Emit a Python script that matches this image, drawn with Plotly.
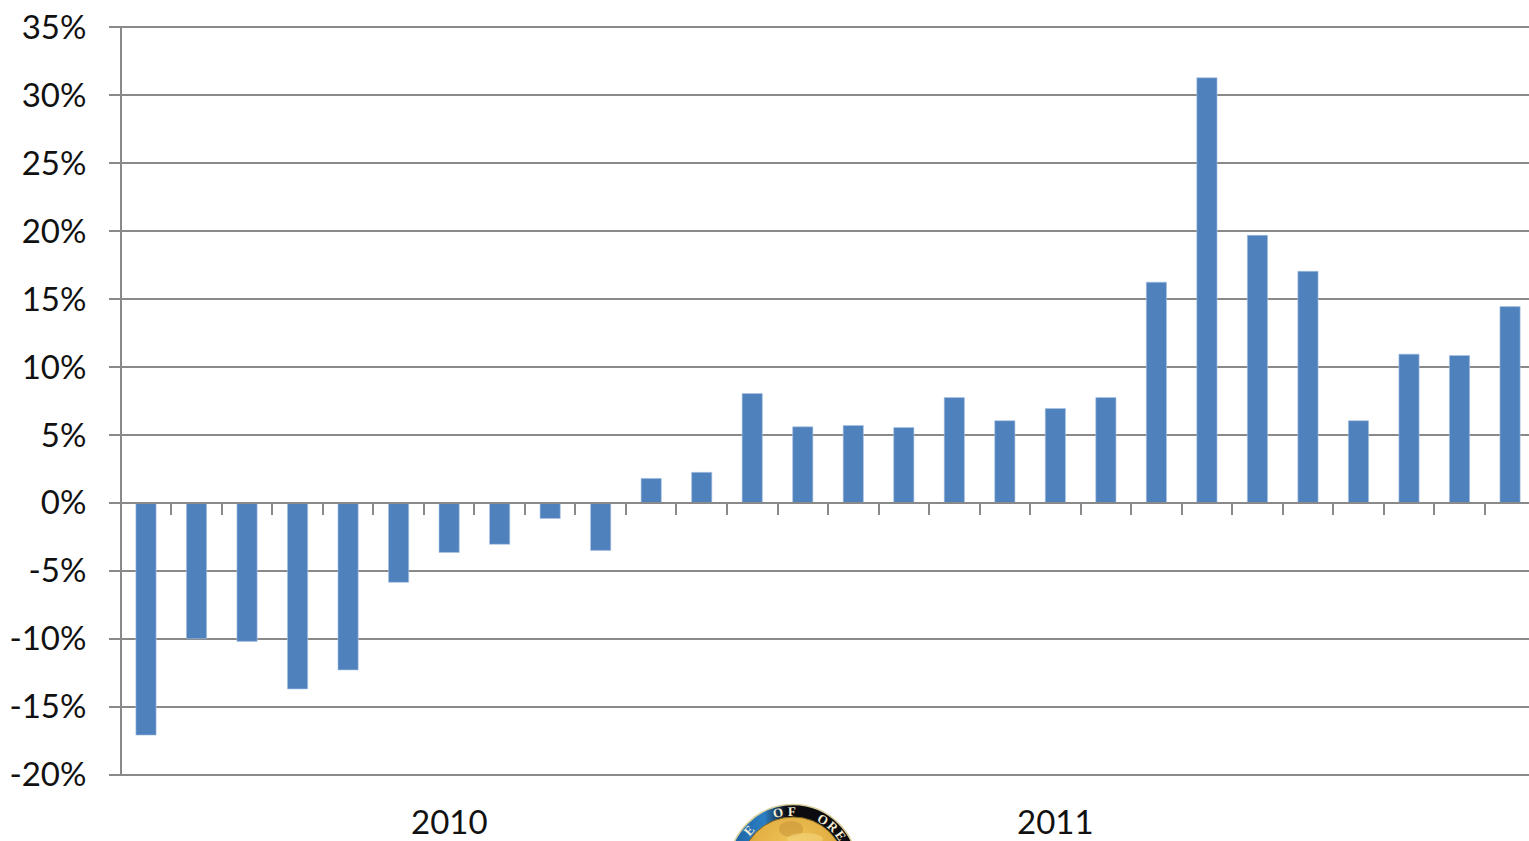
import base64
import math
import plotly.graph_objects as go

# Period-over-period change, in percent
change_pct = [-17.1, -10.0, -10.2, -13.7, -12.3, -5.85, -3.65, -3.05, -1.15, -3.5,
              1.8, 2.25, 8.05, 5.6, 5.7, 5.55, 7.75, 6.05, 6.95, 7.75,
              16.25, 31.3, 19.7, 17.05, 6.05, 10.95, 10.85, 14.45]
periods = list(range(len(change_pct)))
y_ticks = [-20, -15, -10, -5, 0, 5, 10, 15, 20, 25, 30, 35]
period_boundaries = [p + 0.5 for p in periods[:-1]]
year_labels = ["2010", "2011"]
year_centres = [6, 18]
seal_letters = ["E", "O", "F", "O", "R", "E"]
seal_angles = [-49, -15, -1, 31, 43, 55]

W, H = 1529, 841
GRID = "#898989"
FONT = "Lato, Carlito, 'Open Sans', sans-serif"

# State seal, cut off by the bottom of the page
SEAL_X, SEAL_Y, SEAL_R = 793, 869, 65
seal_svg = f"""<svg xmlns='http://www.w3.org/2000/svg' width='140' height='140' viewBox='0 0 140 140'>
<defs>
<radialGradient id='g' cx='50%' cy='30%' r='60%'>
<stop offset='0%' stop-color='#f0c65a'/><stop offset='60%' stop-color='#e3b044'/><stop offset='100%' stop-color='#cf9430'/>
</radialGradient>
<linearGradient id='b' x1='0' y1='0' x2='1' y2='0'>
<stop offset='0%' stop-color='#1a5f9e'/><stop offset='28%' stop-color='#2c7fc4'/><stop offset='45%' stop-color='#0c0c10'/><stop offset='100%' stop-color='#0c0c10'/>
</linearGradient>
</defs>
<circle cx='70' cy='70' r='64.5' fill='url(#b)' stroke='#d8cf9e' stroke-width='1.5'/>
<circle cx='70' cy='70' r='52' fill='url(#g)' stroke='#8a6a20' stroke-width='1'/>
<ellipse cx='68' cy='30' rx='12' ry='8' fill='#c9973a' opacity='0.6'/>
<ellipse cx='82' cy='40' rx='18' ry='6' fill='#f5d67c' opacity='0.6'/>
</svg>"""
seal_uri = "data:image/svg+xml;base64," + base64.b64encode(seal_svg.encode()).decode()

fig = go.Figure(
    go.Bar(
        x=periods,
        y=change_pct,
        width=0.4,
        marker=dict(color="#4f81bd", line=dict(color="#a9c3e3", width=0.6)),
    )
)

# Plot area bounds in page pixels
LEFT, TOP, BOTTOM = 122, 26, 776
x_step = 50.52
x_left = -(146 - LEFT) / x_step
x_right = x_left + (W - LEFT) / x_step
y_pad = 0.11  # keeps the gridlines at both range ends from being clipped
y_low, y_high = -20 - y_pad, 35 + y_pad

fig.update_layout(
    width=W,
    height=H,
    margin=dict(l=LEFT, r=0, t=TOP, b=H - BOTTOM, pad=0),
    paper_bgcolor="white",
    plot_bgcolor="white",
    showlegend=False,
    font=dict(family=FONT, size=33, color="#111111"),
    bargap=0.6,
    xaxis=dict(
        range=[x_left, x_right],
        anchor="free",
        position=-y_low / (y_high - y_low),
        tickmode="array",
        tickvals=period_boundaries,
        ticktext=["" for _ in period_boundaries],
        ticks="outside",
        ticklen=11,
        tickwidth=2,
        tickcolor=GRID,
        showgrid=False,
        zeroline=False,
        showline=True,
        linecolor=GRID,
        linewidth=2,
    ),
    yaxis=dict(
        range=[y_low, y_high],
        tickmode="array",
        tickvals=y_ticks,
        ticktext=[f"{v}%" for v in y_ticks],
        ticks="outside",
        ticklen=11,
        tickwidth=2,
        tickcolor=GRID,
        showgrid=True,
        gridcolor=GRID,
        gridwidth=2,
        zeroline=False,
        showline=True,
        linecolor=GRID,
        linewidth=2,
        ticklabelstandoff=16,
        tickfont=dict(family=FONT, size=33, color="#111111"),
    ),
    images=[
        dict(
            source=seal_uri,
            xref="paper",
            yref="paper",
            x=(SEAL_X - 70 - LEFT) / (W - LEFT),
            y=(BOTTOM - (SEAL_Y - 70)) / (BOTTOM - TOP),
            sizex=140 / (W - LEFT),
            sizey=140 / (BOTTOM - TOP),
            xanchor="left",
            yanchor="top",
            sizing="stretch",
            layer="above",
        )
    ],
)

for label, centre in zip(year_labels, year_centres):
    fig.add_annotation(
        x=centre,
        xref="x",
        y=(BOTTOM - 821) / (BOTTOM - TOP),
        yref="paper",
        text=label,
        showarrow=False,
        yanchor="middle",
        font=dict(family=FONT, size=33, color="#111111"),
    )

# Lettering around the seal's rim
for letter, angle in zip(seal_letters, seal_angles):
    rad = math.radians(angle)
    px = SEAL_X + 58 * math.sin(rad)
    py = SEAL_Y - 58 * math.cos(rad)
    fig.add_annotation(
        x=(px - LEFT) / (W - LEFT),
        y=(BOTTOM - py) / (BOTTOM - TOP),
        xref="paper",
        yref="paper",
        text=f"<b>{letter}</b>",
        textangle=angle,
        showarrow=False,
        yanchor="middle",
        xanchor="center",
        font=dict(family="Liberation Serif, serif", size=13, color="#f5efd6"),
    )

fig.write_html("out.html", config=dict(displayModeBar=False))
